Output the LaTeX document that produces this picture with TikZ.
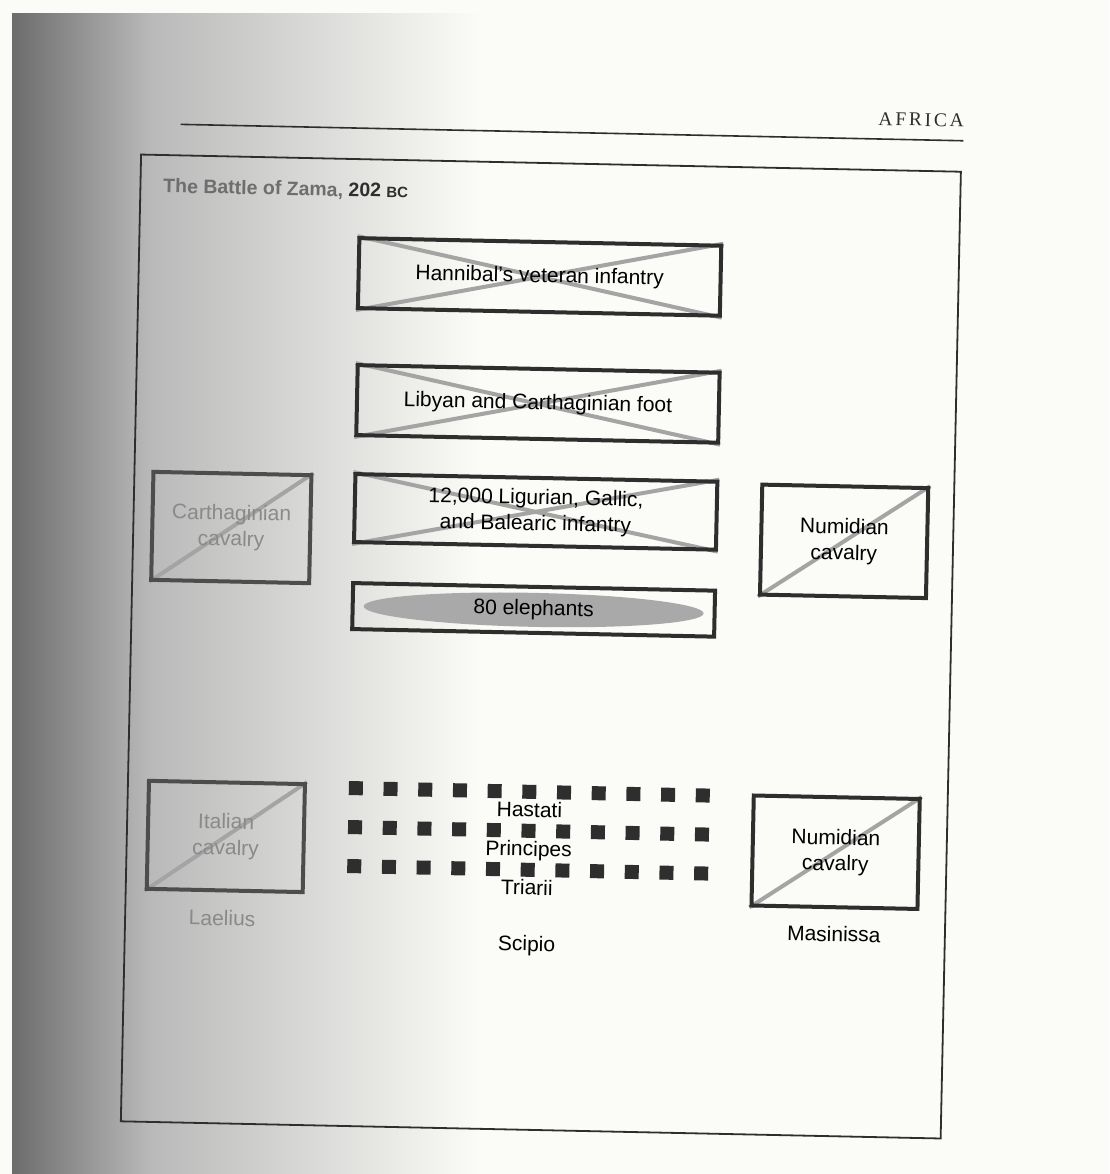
\documentclass[tikz,border=0pt]{standalone}
\usepackage{fontspec}
\usetikzlibrary{shapes.geometric}
\setmainfont{Liberation Sans}
\newfontfamily\headserif[LetterSpace=14]{Liberation Serif}
\definecolor{ink}{HTML}{2E2E2E}
\definecolor{crossgray}{HTML}{A4A4A4}
\definecolor{faded}{HTML}{8A8A8A}
\definecolor{paper}{HTML}{FBFBF7}
\definecolor{shadowA}{HTML}{6C6C6C}
\definecolor{shadowB}{HTML}{B9B9B9}
\definecolor{elephant}{HTML}{A9A9A9}
\pgfdeclarelayer{paperlayer}
\pgfdeclarelayer{crosslayer}
\pgfsetlayers{paperlayer,crosslayer,main}
\tikzset{
  txt/.style={font=\fontsize{21}{26}\selectfont, align=center, inner sep=0pt},
  unitbox/.style={draw=ink, line width=4, inner sep=0pt, align=center,
    font=\fontsize{21}{26}\selectfont},
  crossline/.style={crossgray, line width=4},
  infantry/.style={unitbox, minimum width=362, minimum height=70},
  cavalry/.style={unitbox, minimum width=162, minimum height=109},
  sq/.style={fill=ink, minimum size=14, inner sep=0pt},
  lbl/.style={txt, text height=15, text depth=4.5},
}
\begin{document}
\begin{tikzpicture}[x=1pt, y=-1pt]
\useasboundingbox (0,0) rectangle (1109,1174);
% scanned page background
\begin{pgfonlayer}{paperlayer}
\fill[paper] (0,0) rectangle (1109,1174);
\shade[left color=shadowA, right color=shadowB] (12,14) rectangle (150,1174);
\shade[left color=shadowB, right color=paper] (150,14) rectangle (480,1174);
\end{pgfonlayer}
\begin{scope}[rotate around={-1.2:(540,640)}, transform shape]
  % running head
  \node[anchor=east, inner sep=0pt, font=\headserif\fontsize{19.5}{22}\selectfont, text=ink] (head) at (953,112) {AFRICA};
  \coordinate (ruleL) at (170,132);
  \coordinate (ruleR) at (953,132);
  \draw[ink, line width=1.6] (ruleL) -- (ruleR);
  % frame
  \draw[ink, line width=1.8] (131,163) rectangle (951,1130);
  % title
  \node[anchor=east, inner sep=0pt, font=\bfseries\fontsize{19.5}{22}\selectfont] (title) at (399,195)
    {\textcolor{faded!80!black}{The Battle of Zama,} \textcolor{ink}{202 {\fontsize{15}{16}\selectfont BC}}};
  % Carthaginian lines
  \node[infantry] (veterans) at (532,277) {Hannibal’s veteran infantry};
  \node[infantry] (libyan) at (533,404) {Libyan and Carthaginian foot};
  \node[infantry, minimum height=68] (ligurian) at (533,512) {12,000 Ligurian, Gallic,\\and Balearic infantry};
  \node[unitbox, minimum width=362, minimum height=46] (elebox) at (533,610) {};
  \node[ellipse, fill=elephant, minimum width=340, minimum height=34, inner sep=0pt] (elephants) at (533,610) {};
  \node[txt] (eletext) at (elephants.center) {80 elephants};
  \node[cavalry, minimum width=158, minimum height=108, draw=ink!85, text=faded] (carthcav) at (229,534) {Carthaginian\\cavalry};
  \node[cavalry, minimum width=166, minimum height=110] (numcavA) at (842,535) {Numidian\\cavalry};
  % Roman side
  \foreach \r in {0,1,2}{
    \foreach \c in {0,...,10}{
      \node[sq] (s\r-\c) at ({359+34.7*\c},{792+39*\r}) {};
    }
  }
  \node[lbl] (hastati) at (533,812) {Hastati};
  \node[lbl] (principes) at (533,851) {Principes};
  \node[lbl] (triarii) at (532,890) {Triarii};
  \node[lbl] (scipio) at (533,946) {Scipio};
  \node[cavalry, minimum width=156, minimum height=108, draw=ink!85, text=faded] (italcav) at (230,843) {Italian\\cavalry};
  \node[lbl, text=faded] (laelius) at (228,927) {Laelius};
  \node[cavalry, minimum width=166, minimum height=110] (numcavB) at (840,846) {Numidian\\cavalry};
  \node[lbl] (masinissa) at (840,930) {Masinissa};
  % strike-through marks behind the text
  \begin{pgfonlayer}{crosslayer}
    \foreach \n in {veterans,libyan,ligurian}{
      \draw[crossline] (\n.north west) -- (\n.south east);
      \draw[crossline] (\n.south west) -- (\n.north east);
    }
    \foreach \n in {carthcav,numcavA,italcav,numcavB}{
      \draw[crossline] (\n.south west) -- (\n.north east);
    }
  \end{pgfonlayer}
\end{scope}
\end{tikzpicture}
\end{document}
